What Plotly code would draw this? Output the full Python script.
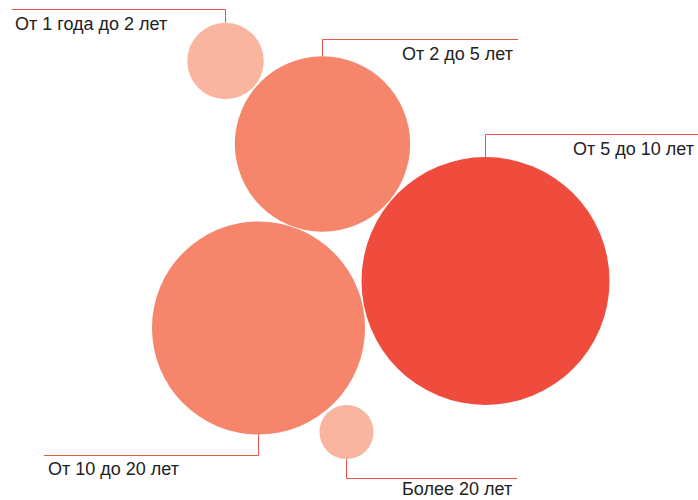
import plotly.graph_objects as go
import math

# Data
categories = ["От 1 года до 2 лет", "От 2 до 5 лет", "От 5 до 10 лет", "От 10 до 20 лет", "Более 20 лет"]
values = [4, 21, 42, 31, 2]

# Layout (pixel coordinates on a 698x500 canvas)
cx = [225.5, 322.5, 485.5, 258.5, 346.5]
cy = [61, 144, 281, 328, 432]
colors = ["#F9B5A0", "#F5866C", "#EF4C3D", "#F5866C", "#F9B5A0"]
max_diam = 248

lead_y = [9.5, 39.5, 134.5, 455.5, 478.5]
lead_x_end = [12, 518, 698, 44, 517]
label_x = [14, 514, 695, 47, 513]
label_y = [24, 54, 149, 469, 489]
label_anchor = ["left", "right", "right", "left", "right"]

line_color = "#EF5248"
text_color = "#222222"

fig = go.Figure()

sizeref = 2.0 * max(values) / (max_diam ** 2)

for i in range(len(categories)):
    r = max_diam / 2 * math.sqrt(values[i] / max(values))
    end = cy[i] - r if lead_y[i] < cy[i] else cy[i] + r
    fig.add_trace(go.Scatter(
        x=[lead_x_end[i], cx[i], cx[i]],
        y=[lead_y[i], lead_y[i], end],
        mode="lines",
        line=dict(color=line_color, width=1),
        hoverinfo="skip",
        showlegend=False,
    ))

fig.add_trace(go.Scatter(
    x=cx, y=cy,
    mode="markers",
    marker=dict(size=values, sizemode="area", sizeref=sizeref,
                color=colors, opacity=1, line=dict(width=0)),
    text=categories,
    hovertemplate="%{text}: %{marker.size}<extra></extra>",
    showlegend=False,
))

for i, c in enumerate(categories):
    fig.add_annotation(
        x=label_x[i], y=label_y[i], text=c, showarrow=False,
        xanchor=label_anchor[i], yanchor="middle", borderpad=0,
        font=dict(family="Liberation Sans, Arial, sans-serif", size=18, color=text_color),
    )

fig.update_xaxes(range=[0, 698], visible=False, fixedrange=True)
fig.update_yaxes(range=[500, 0], visible=False, fixedrange=True)
fig.update_layout(
    width=698, height=500,
    margin=dict(l=0, r=0, t=0, b=0),
    paper_bgcolor="white", plot_bgcolor="white",
)

fig.write_html("out.html")
